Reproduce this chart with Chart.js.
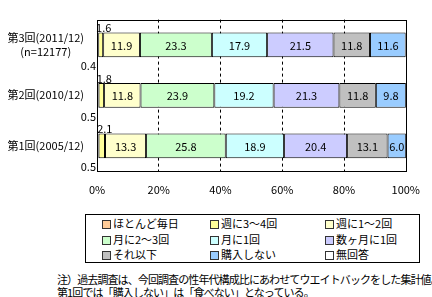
<!DOCTYPE html>
<html>
<head>
<meta charset="utf-8">
<script src="https://cdn.jsdelivr.net/npm/chart.js@4"></script>
<style>
  body { margin: 0; width: 432px; height: 297px; background: #fff; position: relative; overflow: hidden;
         font-family: "Noto Sans CJK JP", sans-serif; font-size: 11px; color: #000; }
  #wrap { position: absolute; left: 0; top: 0; width: 432px; height: 200px; }
  #legend { position: absolute; left: 85px; top: 214px; width: 333px; height: 47px; border: 1px solid #000;
            box-sizing: content-box; }
  .item { position: absolute; height: 15px; line-height: 15px; white-space: nowrap; }
  .item i { display: inline-block; width: 7px; height: 7px; border: 1px solid #333; margin-right: 2px; vertical-align: -1px; }
  #note { position: absolute; left: 57px; top: 273px; line-height: 13px; white-space: nowrap; letter-spacing: -0.9px; }
</style>
</head>
<body>
<div id="wrap"><canvas id="chart" width="432" height="200"></canvas></div>
<div id="legend"></div>
<div id="note">注）過去調査は、今回調査の性年代構成比にあわせてウエイトバックをした集計値。<br>第1回では「購入しない」は「食べない」となっている。</div>
<script>
// categories (top to bottom)
const surveys = [['第3回(2011/12)', '(n=12177)'], '第2回(2010/12)', '第1回(2005/12)'];

// series values (%)
const almostDaily = [0.4, 0.5, 0.5];
const week3to4 = [1.6, 1.8, 2.1];
const week1to2 = [11.9, 11.8, 13.3];
const month2to3 = [23.3, 23.9, 25.8];
const month1 = [17.9, 19.2, 18.9];
const fewMonths = [21.5, 21.3, 20.4];
const less = [11.8, 11.8, 13.1];
const noBuy = [11.6, 9.8, 6.0];
const noAnswer = [0, 0, 0];

const seriesNames = ['ほとんど毎日', '週に3～4回', '週に1～2回', '月に2～3回', '月に1回', '数ヶ月に1回', 'それ以下', '購入しない', '無回答'];
const seriesData = [almostDaily, week3to4, week1to2, month2to3, month1, fewMonths, less, noBuy, noAnswer];
const seriesColors = ['#ffcc99', '#ffff99', '#ffffcc', '#ccffcc', '#ccffff', '#ccccff', '#c0c0c0', '#99ccff', '#ffffff'];

const xTicks = [0, 20, 40, 60, 80, 100];

const FONT = '"Noto Sans CJK JP", sans-serif';

// labels for each segment: inside, small ones outside
const labelPlugin = {
  id: 'segLabels',
  afterDatasetsDraw(chart) {
    const ctx = chart.ctx;
    ctx.save();
    ctx.font = '11px ' + FONT;
    ctx.fillStyle = '#000';
    chart.data.datasets.forEach((ds, di) => {
      if (di === 8) return;
      chart.getDatasetMeta(di).data.forEach((bar, i) => {
        const v = ds.data[i];
        const p = bar.getProps(['x', 'y', 'base', 'height'], true);
        const cx = (p.x + p.base) / 2;
        const txt = v.toFixed(1);
        if (di === 0) {
          ctx.textAlign = 'right';
          ctx.textBaseline = 'middle';
          ctx.fillText(txt, chart.chartArea.left - 1, p.y + p.height / 2 + 9);
        } else if (di === 1) {
          ctx.textAlign = 'center';
          ctx.textBaseline = 'bottom';
          ctx.fillText(txt, cx + 3, p.y - p.height / 2 + 1);
        } else {
          ctx.textAlign = 'center';
          ctx.textBaseline = 'middle';
          ctx.fillText(txt, cx, p.y + 1);
        }
      });
    });
    ctx.restore();
  }
};

// plot frame
const framePlugin = {
  id: 'frame',
  afterDraw(chart) {
    const a = chart.chartArea;
    const ctx = chart.ctx;
    ctx.save();
    ctx.strokeStyle = '#000';
    ctx.lineWidth = 1;
    ctx.strokeRect(Math.round(a.left) + 0.5, Math.round(a.top) + 0.5, Math.round(a.right - a.left), Math.round(a.bottom - a.top));
    ctx.restore();
  }
};

new Chart(document.getElementById('chart'), {
  type: 'bar',
  data: {
    labels: surveys,
    datasets: seriesData.map((d, k) => ({
      label: seriesNames[k],
      data: d,
      backgroundColor: seriesColors[k],
      borderColor: '#000',
      borderWidth: 1,
      borderSkipped: false,
      categoryPercentage: 1,
      barPercentage: 0.49
    }))
  },
  options: {
    indexAxis: 'y',
    responsive: false,
    animation: false,
    layout: { padding: { top: 0, right: 20, left: 0, bottom: 0 } },
    plugins: { legend: { display: false }, tooltip: { enabled: false } },
    scales: {
      x: {
        stacked: true,
        min: 0,
        max: 100,
        afterBuildTicks: s => { s.ticks = xTicks.map(v => ({ value: v })); },
        afterFit: s => { s.height = 29; },
        border: { display: false, dash: [3, 3] },
        grid: {
          drawTicks: false,
          color: c => (c.tick && (c.tick.value === 0 || c.tick.value === 100)) ? 'rgba(0,0,0,0)' : '#000'
        },
        ticks: {
          padding: 12,
          color: '#000',
          font: { family: FONT, size: 11 },
          callback: v => v + '%'
        }
      },
      y: {
        stacked: true,
        afterFit: s => { s.width = 97; },
        border: { display: false },
        grid: { display: false, drawTicks: false },
        ticks: {
          padding: 13,
          crossAlign: 'center',
          color: '#000',
          font: { family: FONT, size: 11 }
        }
      }
    }
  },
  plugins: [labelPlugin, framePlugin]
});

// legend from the series arrays, 3 columns
const legend = document.getElementById('legend');
const colX = [16, 124, 239];
seriesNames.forEach((name, k) => {
  const el = document.createElement('div');
  el.className = 'item';
  el.style.left = colX[k % 3] + 'px';
  el.style.top = (1 + Math.floor(k / 3) * 15.5) + 'px';
  el.innerHTML = '<i style="background:' + seriesColors[k] + '"></i>' + name;
  legend.appendChild(el);
});
</script>
</body>
</html>
